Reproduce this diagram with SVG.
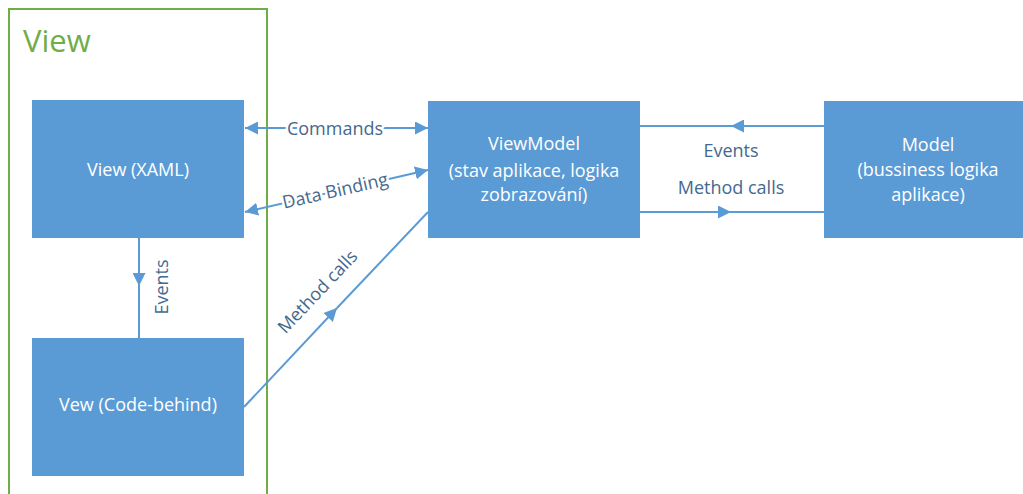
<svg xmlns="http://www.w3.org/2000/svg" width="1023" height="494" viewBox="0 0 1023 494">
  <style>
    .box { fill: #5B9BD5; }
    .boxtext { fill: #ffffff; font-family: "Open Sans", "Liberation Sans", sans-serif; font-size: 18px; text-anchor: middle; }
    .conn { stroke: #5B9BD5; stroke-width: 2; fill: none; }
    .lbl { fill: #44698F; font-family: "Open Sans", "Liberation Sans", sans-serif; font-size: 18px; text-anchor: middle; dominant-baseline: central; }
    .halo { stroke: #ffffff; stroke-width: 5; paint-order: stroke; stroke-linejoin: round; }
  </style>
  <defs>
    <marker id="arrow" viewBox="0 0 10 10" refX="10" refY="5" markerWidth="13" markerHeight="13" markerUnits="userSpaceOnUse" orient="auto-start-reverse">
      <path d="M0,0 L10,5 L0,10 z" fill="#5B9BD5"/>
    </marker>
  </defs>

  <rect width="1023" height="494" fill="#ffffff"/>

  <!-- View container -->
  <g id="view-container">
    <rect x="9" y="9" width="258" height="500" fill="none" stroke="#70AD47" stroke-width="2"/>
    <text x="23" y="52" fill="#70AD47" font-family="'Open Sans', 'Liberation Sans', sans-serif" font-size="31">View</text>
  </g>

  <!-- connectors -->
  <g id="connectors">
    <!-- Commands -->
    <line class="conn" x1="245" y1="128" x2="428" y2="128" marker-start="url(#arrow)" marker-end="url(#arrow)"/>
    <!-- Data Binding -->
    <line class="conn" x1="245" y1="212" x2="428" y2="170" marker-start="url(#arrow)" marker-end="url(#arrow)"/>
    <!-- Events (XAML to code-behind) -->
    <line class="conn" x1="139" y1="238" x2="139" y2="286" marker-end="url(#arrow)"/>
    <line class="conn" x1="139" y1="286" x2="139" y2="338"/>
    <!-- Method calls (code-behind to ViewModel) -->
    <line class="conn" x1="244" y1="407" x2="337" y2="308" marker-end="url(#arrow)"/>
    <line class="conn" x1="337" y1="308" x2="428" y2="212"/>
    <!-- Events (Model to ViewModel) -->
    <line class="conn" x1="824" y1="126" x2="731" y2="126" marker-end="url(#arrow)"/>
    <line class="conn" x1="731" y1="126" x2="640" y2="126"/>
    <!-- Method calls (ViewModel to Model) -->
    <line class="conn" x1="640" y1="212" x2="731" y2="212" marker-end="url(#arrow)"/>
    <line class="conn" x1="731" y1="212" x2="824" y2="212"/>

    <text class="lbl halo" x="335" y="128">Commands</text>
    <text class="lbl halo" transform="translate(335,190) rotate(-12.9)">Data Binding</text>
    <text class="lbl" transform="translate(161,287) rotate(-90)">Events</text>
    <text class="lbl" transform="translate(317,291) rotate(-46.5)">Method calls</text>
    <text class="lbl" x="731" y="150">Events</text>
    <text class="lbl" x="731" y="187">Method calls</text>
  </g>

  <g id="view-xaml">
    <rect class="box" x="32" y="100" width="212" height="138"/>
    <text class="boxtext" x="138" y="176">View (XAML)</text>
  </g>

  <g id="view-code-behind">
    <rect class="box" x="32" y="338" width="212" height="138"/>
    <text class="boxtext" x="138" y="411">Vew (Code-behind)</text>
  </g>

  <g id="viewmodel">
    <rect class="box" x="428" y="101" width="212" height="137"/>
    <text class="boxtext" x="534" y="150">ViewModel</text>
    <text class="boxtext" x="534" y="177">(stav aplikace, logika</text>
    <text class="boxtext" x="534" y="201">zobrazování)</text>
  </g>

  <g id="model">
    <rect class="box" x="824" y="101" width="210" height="137"/>
    <text class="boxtext" x="928" y="151">Model</text>
    <text class="boxtext" x="928" y="176">(bussiness logika</text>
    <text class="boxtext" x="928" y="201">aplikace)</text>
  </g>
</svg>
